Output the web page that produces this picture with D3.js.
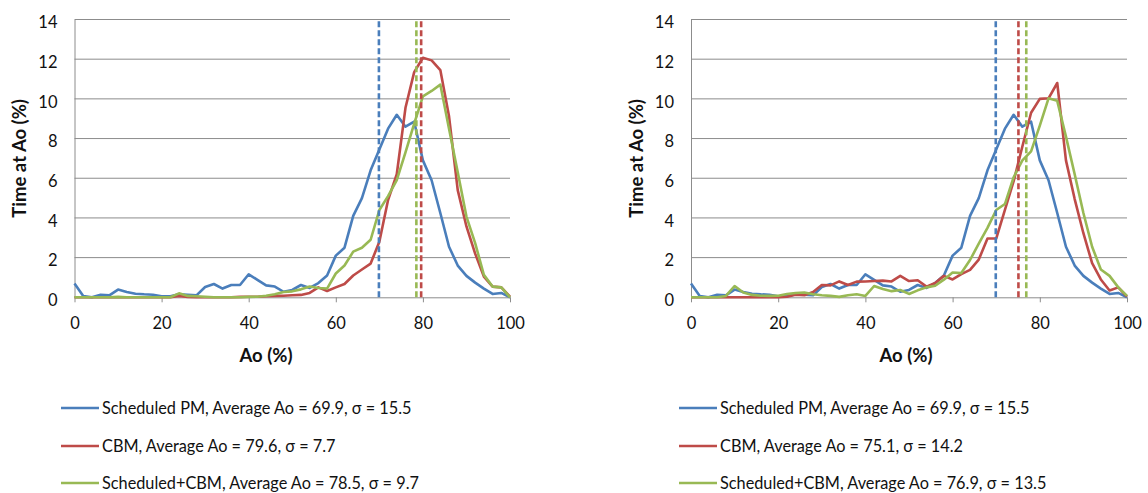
<!DOCTYPE html>
<html><head><meta charset="utf-8">
<script src="https://cdn.jsdelivr.net/npm/d3@7"></script>
<style>body{margin:0;background:#fff}svg{display:block}text{font-family:Lato,"Open Sans",sans-serif;fill:#111}</style>
</head><body><svg id="c" width="1148" height="493"></svg>
<script>
const aoValues = d3.range(0, 101, 2);
const yTicks = [0,2,4,6,8,10,12,14];
const xTicks = [0,20,40,60,80,100];
const seriesNames = ["Scheduled PM", "CBM", "Scheduled+CBM"];
const seriesColors = ["#4A7EBB", "#BE4B48", "#98B954"];

const pmValues = [0.7,0.07,0,0.13,0.1,0.39,0.27,0.18,0.15,0.13,0.05,0.05,0.15,0.13,0.1,0.52,0.67,0.44,0.62,0.62,1.16,0.88,0.6,0.54,0.28,0.37,0.62,0.47,0.72,1.1,2.1,2.5,4.1,5.0,6.4,7.45,8.5,9.2,8.6,8.85,6.9,5.9,4.25,2.55,1.6,1.08,0.74,0.44,0.17,0.22,0];
const cbmLeft = [0,0,0,0,0,0,0,0,0,0,0,0,0.07,0.02,0,0,0,0,0,0.02,0.03,0.03,0.05,0.07,0.08,0.1,0.12,0.22,0.5,0.32,0.5,0.67,1.1,1.4,1.7,2.8,4.9,6.2,9.55,11.35,12.07,11.94,11.45,9.12,5.4,3.57,2.2,1.04,0.54,0.5,0.03];
const bothLeft = [0,0,0,0,0,0.02,0,0,0,0,0,0,0.2,0.07,0.05,0.03,0,0,0,0,0.02,0.03,0.08,0.15,0.27,0.3,0.4,0.54,0.47,0.44,1.2,1.6,2.3,2.5,2.9,4.4,5.1,5.9,7.3,8.75,10.13,10.4,10.72,8.5,6.3,4.07,2.73,1.13,0.54,0.5,0];
const cbmRight = [0,0,0,0,0,0,0,0,0,0,0,0.03,0.13,0.1,0.27,0.62,0.6,0.8,0.62,0.79,0.8,0.82,0.84,0.8,1.08,0.82,0.86,0.54,0.72,1.08,0.9,1.17,1.38,1.9,2.96,2.96,4.4,5.85,7.6,9.3,10.0,10.03,10.8,6.9,4.95,3.23,1.72,0.9,0.34,0.5,0.03];
const bothRight = [0,0,0,0,0.07,0.57,0.24,0.12,0.08,0.07,0.08,0.17,0.22,0.24,0.15,0.1,0.07,0.02,0.1,0.15,0.07,0.57,0.42,0.31,0.37,0.17,0.35,0.5,0.58,0.89,1.25,1.22,1.88,2.7,3.5,4.4,4.7,6.05,6.9,7.35,8.65,10.03,9.9,8.1,6.2,4.25,2.55,1.4,1.08,0.5,0.07];

const avgLeft = [69.9, 79.6, 78.5];
const sigmaLeft = [15.5, 7.7, 9.7];
const avgRight = [69.9, 75.1, 76.9];
const sigmaRight = [15.5, 14.2, 13.5];

const svg = d3.select("#c");

function drawChart(cfg) {
  const x = d3.scaleLinear().domain([0,100]).range([cfg.x0, cfg.x1]);
  const y = d3.scaleLinear().domain([0,14]).range([297.3, 19.5]);
  const g = svg.append("g");
  g.selectAll("line.grid").data(yTicks.filter(d=>d>0)).join("line")
    .attr("x1", cfg.x0).attr("x2", cfg.x1).attr("y1", d=>y(d)).attr("y2", d=>y(d))
    .attr("stroke", "#8c8c8c").attr("stroke-width", 1);
  const ya = g.append("g").attr("transform", `translate(${cfg.x0},0)`)
    .call(d3.axisLeft(y).tickValues(yTicks).tickSize(0).tickPadding(17));
  ya.select(".domain").attr("stroke", "#8c8c8c");
  ya.selectAll("text").style("font-size", "16.5px").attr("fill", "#111").attr("dy", "0.5em");
  const xa = g.append("g").attr("transform", `translate(0,${y(0)})`)
    .call(d3.axisBottom(x).tickValues(xTicks).tickSize(5).tickPadding(15).tickSizeOuter(0));
  xa.select(".domain").attr("stroke", "#8c8c8c");
  xa.selectAll("line").attr("stroke", "#8c8c8c");
  xa.selectAll("text").style("font-size", "16.5px").attr("fill", "#111");
  g.append("text").attr("x", cfg.titleX).attr("y", 362).attr("text-anchor", "middle")
    .style("font-size", "18.5px").style("font-weight", "bold").text("Ao (%)");
  g.append("text").attr("transform", `translate(${cfg.yTitleX},${(y(0)+y(14))/2}) rotate(-90)`)
    .attr("text-anchor", "middle").attr("dy", "0.35em")
    .style("font-size", "18.5px").style("font-weight", "bold").text("Time at Ao (%)");
  const line = d3.line().x((d,i)=>x(aoValues[i])).y(d=>y(d));
  cfg.series.forEach((s,i) => {
    g.append("path").datum(s).attr("d", line).attr("fill", "none")
      .attr("stroke", seriesColors[i]).attr("stroke-width", 2.6).attr("stroke-linejoin", "round");
  });
  cfg.avg.forEach((a,i) => {
    g.append("line").attr("x1", x(a)).attr("x2", x(a)).attr("y1", y(0)).attr("y2", y(14))
      .attr("stroke", seriesColors[i]).attr("stroke-width", 2.6).attr("stroke-dasharray", "6,3");
  });
  const rows = [408, 446, 483];
  seriesNames.forEach((n,i) => {
    g.append("line").attr("x1", cfg.legX).attr("x2", cfg.legX+38).attr("y1", rows[i]).attr("y2", rows[i])
      .attr("stroke", seriesColors[i]).attr("stroke-width", 2.6);
    g.append("text").attr("x", cfg.legX+41).attr("y", rows[i]).attr("dy", "0.36em")
      .style("font-size", "16.3px")
      .text(`${n}, Average Ao = ${cfg.avg[i].toFixed(1)}, σ = ${cfg.sigma[i].toFixed(1)}`);
  });
}

drawChart({x0:74.5, x1:510, titleX:266, yTitleX:20, legX:61,
  series:[pmValues, cbmLeft, bothLeft], avg:avgLeft, sigma:sigmaLeft});
drawChart({x0:691, x1:1127, titleX:906, yTitleX:637, legX:679,
  series:[pmValues, cbmRight, bothRight], avg:avgRight, sigma:sigmaRight});
</script></body></html>
